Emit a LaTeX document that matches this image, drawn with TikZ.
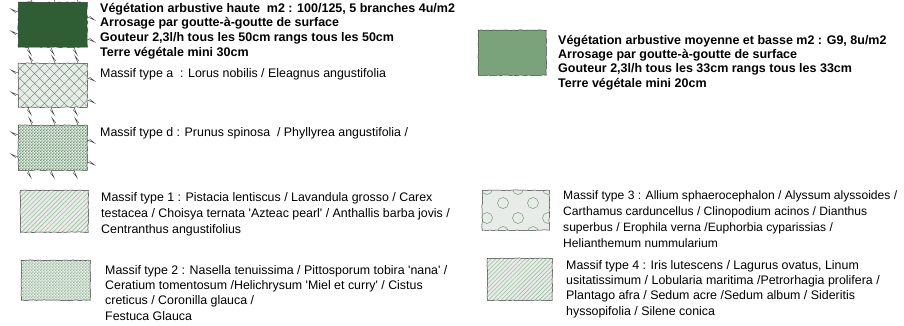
\documentclass[tikz,border=0pt]{standalone}
\usepackage{fontspec}
\setmainfont{Liberation Sans}
\usepackage{tikz}
\usetikzlibrary{patterns,patterns.meta}
\usetikzlibrary{decorations.pathmorphing,positioning}

\definecolor{darkveg}{HTML}{2F5E35}
\definecolor{midveg}{HTML}{7AA27B}
\definecolor{paleveg}{HTML}{E8ECE8}
\definecolor{hatchveg}{HTML}{6F9C73}
\definecolor{lighthatch}{HTML}{9DBFA0}
\definecolor{edgegray}{HTML}{3C3C3C}

% small checks, as in the plan legend
\pgfdeclarepatternformonly{finechecker}{\pgfpointorigin}{\pgfqpoint{3.2pt}{3.2pt}}{\pgfqpoint{3.2pt}{3.2pt}}{%
  \pgfpathrectangle{\pgfpointorigin}{\pgfqpoint{1.6pt}{1.6pt}}%
  \pgfpathrectangle{\pgfqpoint{1.6pt}{1.6pt}}{\pgfqpoint{1.6pt}{1.6pt}}%
  \pgfusepath{fill}}

\newcommand{\sq}{\textquotesingle}
% thorns round a swatch
\newcommand\spiky[1]{%
  \foreach \dx in {14,37,60}{
    \draw[thorn] ([xshift=\dx pt]#1.north west) -- ++(-3,-7) -- ++(4,5);
    \draw[thorn] ([xshift=\dx pt-4pt]#1.south west) -- ++(3,7) -- ++(-4,-5);
  }
  \foreach \dy in {10,32}{
    \draw[thorn] ([yshift=-\dy pt]#1.north west) -- ++(-7,-3) -- ++(5,4);
    \draw[thorn] ([yshift=-\dy pt-5pt]#1.north east) -- ++(7,3) -- ++(-5,-4);
  }}

\begin{document}
\begin{tikzpicture}[x=1pt,y=-1pt,
  swatch/.style={draw=edgegray, line width=0.5pt, anchor=north west, inner sep=0pt,
    minimum width=69pt, minimum height=44pt, decorate,
    decoration={random steps,segment length=2.5pt,amplitude=0.35pt}},
  legend/.style={anchor=north west, inner sep=0pt, align=left,
    font=\fontsize{12.4}{16}\selectfont},
  legendbold/.style={legend, font=\fontsize{12.5}{14.6}\selectfont\bfseries},
  thorn/.style={draw=edgegray, line width=0.45pt}]

  \useasboundingbox (0,0) rectangle (904,326);

  % Swatches, left column
  \node[swatch, fill=darkveg, minimum height=45pt] (haute) at (18,2) {};
  \node[swatch, preaction={fill=paleveg},
    pattern={Hatch[angle=45,distance=7pt,line width=0.5pt]}, pattern color=hatchveg] (typea) at (18,63) {};
  \node[swatch, preaction={fill=paleveg}, pattern=finechecker, pattern color=hatchveg,
    minimum height=45pt] (typed) at (18,125) {};
  \node[swatch, preaction={fill=paleveg},
    pattern={Lines[angle=45,distance=3.2pt,line width=0.6pt]}, pattern color=lighthatch,
    minimum width=68pt, minimum height=42pt] (type1) at (20,190) {};
  \node[swatch, preaction={fill=paleveg}, pattern=finechecker, pattern color=lighthatch,
    minimum height=40pt] (type2) at (21,260) {};

  \spiky{haute}
  \spiky{typea}
  \spiky{typed}

  % Swatches, right column
  \node[swatch, fill=midveg, minimum width=68pt, minimum height=45pt] (basse) at (478,30) {};
  \node[swatch, fill=paleveg, minimum width=67pt, minimum height=40pt] (type3) at (482,190) {};
  \begin{scope}[shift={(type3.north west)}]
    \clip (0,0) rectangle (67,40);
    \foreach \cx/\cy in {5/-1,36/-1,66/-1,21/13,51/13,5/28,36/28,66/28,21/42,51/42}
      \draw[hatchveg, line width=0.5pt] (\cx,\cy) circle (5.5);
  \end{scope}
  \node[swatch, preaction={fill=paleveg},
    pattern={Lines[angle=45,distance=3pt,line width=0.6pt]}, pattern color=lighthatch,
    minimum width=65pt, minimum height=42pt] (type4) at (487,258) {};

  % Texts
  \node[legendbold] (hautetxt) at (100,3)
    {Végétation arbustive haute\ \ m2 : 100/125, 5 branches 4u/m2\\
     Arrosage par goutte-à-goutte de surface\\
     Gouteur 2,3l/h tous les 50cm rangs tous les 50cm\\
     Terre végétale mini 30cm};
  \node[legend] (typeatxt) at (100,68)
    {Massif type a\ \ : Lorus nobilis / Eleagnus angustifolia};
  \node[legend] (typedtxt) at (100,127)
    {Massif type d : Prunus spinosa\ \ / Phyllyrea angustifolia /};
  \node[legend] (type1txt) at (101,192)
    {Massif type 1 : Pistacia lentiscus / Lavandula grosso / Carex\\
     testacea / Choisya ternata \sq Azteac pearl\sq{} / Anthallis barba jovis /\\
     Centranthus angustifolius};
  \node[legend, font=\fontsize{12.4}{15.3}\selectfont] (type2txt) at (105,265)
    {Massif type 2 : Nasella tenuissima / Pittosporum tobira \sq nana\sq{} /\\
     Ceratium tomentosum /Helichrysum \sq Miel et curry\sq{} / Cistus\\
     creticus / Coronilla glauca /\\
     Festuca Glauca};

  \node[legendbold, font=\fontsize{12.5}{14.3}\selectfont\bfseries] (bassetxt) at (558,35)
    {Végétation arbustive moyenne et basse m2 : G9, 8u/m2\\
     Arrosage par goutte-à-goutte de surface\\
     Gouteur 2,3l/h tous les 33cm rangs tous les 33cm\\
     Terre végétale mini 20cm};
  \node[legend, font=\fontsize{12.1}{15.7}\selectfont] (type3txt) at (563,191)
    {Massif type 3 : Allium sphaerocephalon / Alyssum alyssoides /\\
     Carthamus carduncellus / Clinopodium acinos / Dianthus\\
     superbus / Erophila verna /Euphorbia cyparissias /\\
     Helianthemum nummularium};
  \node[legend, font=\fontsize{12.4}{15.3}\selectfont] (type4txt) at (566,260)
    {Massif type 4 : Iris lutescens / Lagurus ovatus, Linum\\
     usitatissimum / Lobularia maritima /Petrorhagia prolifera /\\
     Plantago afra / Sedum acre /Sedum album / Sideritis\\
     hyssopifolia / Silene conica};

\end{tikzpicture}
\end{document}
